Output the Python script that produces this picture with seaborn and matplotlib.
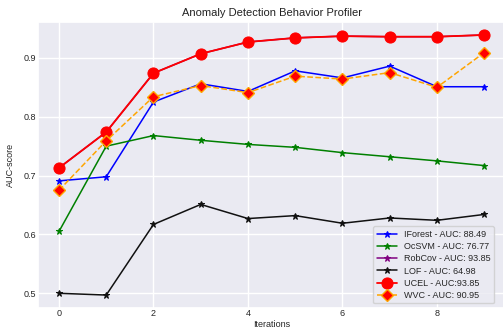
import matplotlib
matplotlib.use("Agg")
import matplotlib.pyplot as plt
import seaborn as sns
import pandas as pd

iterations = list(range(10))
iforest = [0.691, 0.698, 0.825, 0.856, 0.843, 0.878, 0.866, 0.886, 0.851, 0.851]
ocsvm = [0.605, 0.750, 0.768, 0.760, 0.753, 0.748, 0.739, 0.732, 0.725, 0.717]
robcov = [0.713, 0.774, 0.874, 0.907, 0.927, 0.934, 0.937, 0.936, 0.936, 0.939]
lof = [0.500, 0.497, 0.617, 0.651, 0.627, 0.632, 0.619, 0.628, 0.624, 0.634]
ucel = [0.713, 0.774, 0.874, 0.907, 0.927, 0.934, 0.937, 0.936, 0.936, 0.939]
wvc = [0.675, 0.759, 0.834, 0.853, 0.841, 0.869, 0.864, 0.875, 0.850, 0.909]

labels = ["IForest - AUC: 88.49", "OcSVM - AUC: 76.77", "RobCov - AUC: 93.85",
          "LOF - AUC: 64.98", "UCEL - AUC:93.85", "WVC - AUC: 90.95"]

sns.set_theme(style="darkgrid")
plt.rcParams['font.family'] = ['Liberation Sans', 'DejaVu Sans']

fig = plt.figure(figsize=(5.03, 3.31), dpi=100)
ax = fig.add_axes([37.7/503, 1-308/331, 467.8/503, (308-22)/331])

styles = [
    (iforest, dict(color="blue", marker="*", markersize=5, linewidth=1.1, markeredgecolor="blue")),
    (ocsvm, dict(color="green", marker="*", markersize=5, linewidth=1.1, markeredgecolor="green")),
    (robcov, dict(color="purple", marker="*", markersize=5, linewidth=1.1, markeredgecolor="purple")),
    (lof, dict(color="#111111", marker="*", markersize=5, linewidth=1.1, markeredgecolor="#111111")),
    (ucel, dict(color="red", marker="o", markersize=8, linewidth=1.3, markeredgecolor="red")),
    (wvc, dict(color="orange", marker="D", markersize=6, linewidth=1.1, linestyle="--",
               markerfacecolor="red", markeredgecolor="orange", markeredgewidth=1)),
]
for (vals, st), lab in zip(styles, labels):
    df = pd.DataFrame({"Iterations": iterations, "AUC-score": vals})
    sns.lineplot(data=df, x="Iterations", y="AUC-score", ax=ax, label=lab, **st)

ax.set_title("Anomaly Detection Behavior Profiler", fontsize=8, color="#222222", pad=4)
ax.set_xlabel("Iterations", fontsize=6.5, labelpad=1)
ax.set_ylabel("AUC-score", fontsize=6.5, labelpad=6)
ax.tick_params(labelsize=6.5, pad=1, length=0)
ax.set_xticks([0, 2, 4, 6, 8])
ax.set_yticks([0.5, 0.6, 0.7, 0.8, 0.9])
ax.set_xlim(-0.45, 9.45)
ax.set_ylim(0.475, 0.961)
ax.legend(loc="lower right", fontsize=6.5, frameon=True, facecolor="#eaeaf2",
          borderpad=0.4, labelspacing=0.35, handlelength=2.2, bbox_to_anchor=(0.985, 0.0))
fig.savefig("out.png", dpi=100)
